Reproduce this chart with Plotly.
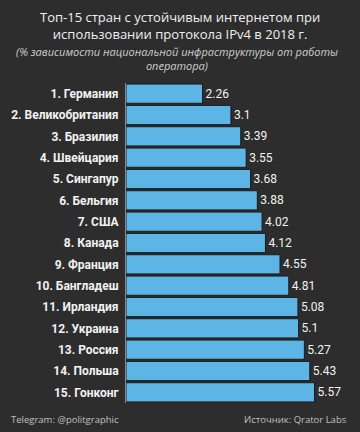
import plotly.graph_objects as go

countries = ["1. Германия", "2. Великобритания", "3. Бразилия", "4. Швейцария", "5. Сингапур",
             "6. Бельгия", "7. США", "8. Канада", "9. Франция", "10. Бангладеш",
             "11. Ирландия", "12. Украина", "13. Россия", "14. Польша", "15. Гонконг"]
values = [2.26, 3.1, 3.39, 3.55, 3.68, 3.88, 4.02, 4.12, 4.55, 4.81, 5.08, 5.1, 5.27, 5.43, 5.57]
value_labels = ["2.26", "3.1", "3.39", "3.55", "3.68", "3.88", "4.02", "4.12", "4.55", "4.81",
                "5.08", "5.1", "5.27", "5.43", "5.57"]

BG = "#2d2d2d"
fig = go.Figure(go.Bar(
    x=values, y=countries, orientation="h",
    marker=dict(color="#5db5e6", line=dict(color="#1c1c1c", width=1)),
    text=value_labels, textposition="outside", cliponaxis=False,
    textfont=dict(family="Roboto", size=12, color="#f2f2f2"),
))

L, R, T, B = 126, 14, 83, 29
H = 432 - T - B
W = 360 - L - R

def py(pix):
    return 1 + (T - pix) / H

def px(pix):
    return (pix - L) / W

annots = [
    dict(text="Топ-15 стран с устойчивым интернетом при<br>использовании протокола IPv4 в 2018 г.",
         x=px(180), y=py(25),
         font=dict(family="Open Sans", size=13, color="#f0f0f0")),
    dict(text="<i>(% зависимости национальной инфраструктуры от работы<br>оператора)</i>",
         x=px(177), y=py(58),
         font=dict(family="Open Sans", size=11, color="#cfcfcf")),
    dict(text="Telegram: @politgraphic", x=px(9), y=py(419), xanchor="left",
         font=dict(family="Open Sans", size=9.5, color="#c0c0c0")),
    dict(text="Источник: Qrator Labs", x=px(349), y=py(419), xanchor="right",
         font=dict(family="Open Sans", size=9.5, color="#c0c0c0")),
]
for a in annots:
    a.setdefault("xanchor", "center")
    a.update(xref="paper", yref="paper", yanchor="middle", showarrow=False)

fig.update_layout(
    width=360, height=432,
    margin=dict(l=L, r=R, t=T, b=B),
    paper_bgcolor=BG, plot_bgcolor=BG,
    bargap=0.1,
    showlegend=False,
    annotations=annots,
    xaxis=dict(range=[0, 6.5], visible=False, showgrid=False, zeroline=False),
    yaxis=dict(autorange="reversed", showgrid=False, zeroline=False,
               showline=True, linecolor="#8a8a8a", linewidth=1,
               tickmode="array", tickvals=countries,
               ticktext=["<b>" + c + "</b>" for c in countries],
               ticks="", ticklabelstandoff=4,
               tickfont=dict(family="Roboto", size=12, color="#f2f2f2")),
)

fig.write_html("out.html", config={"displayModeBar": False},
               post_script="document.body.style.margin='0';document.body.style.background='%s';" % BG)
